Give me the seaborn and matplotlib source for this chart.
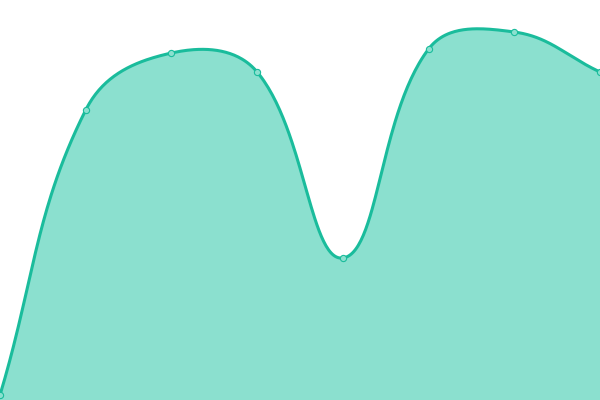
import numpy as np
import pandas as pd
import matplotlib
matplotlib.use("Agg")
import matplotlib.pyplot as plt
import seaborn as sns

categories = [0, 1, 2, 3, 4, 5, 6, 7]
values = [5, 290, 347, 328, 142, 351, 368, 328]

LINE = "#1abc9c"
FILL = "#8be0cf"
XSCALE = 600 / 7  # pixel width per category (for distance-weighted tension)

def spline_curve(x, y, tension=0.4, n=60):
    # distance-weighted bezier spline (tension 0.4), computed in pixel space
    P = np.column_stack([np.asarray(x, float) * XSCALE, np.asarray(y, float)])
    k = len(P)
    cpin, cpout = [], []
    for i in range(k):
        prev = P[max(i - 1, 0)]; cur = P[i]; nxt = P[min(i + 1, k - 1)]
        d01 = np.hypot(*(cur - prev)); d12 = np.hypot(*(nxt - cur))
        s = d01 + d12
        fa = tension * d01 / s if s else 0
        fb = tension * d12 / s if s else 0
        cpin.append(cur - fa * (nxt - prev))
        cpout.append(cur + fb * (nxt - prev))
    xs, ys = [], []
    t = np.linspace(0, 1, n, endpoint=False)[:, None]
    for i in range(k - 1):
        p0, p1, p2, p3 = P[i], cpout[i], cpin[i + 1], P[i + 1]
        b = (1 - t)**3 * p0 + 3 * (1 - t)**2 * t * p1 + 3 * (1 - t) * t**2 * p2 + t**3 * p3
        xs.append(b[:, 0]); ys.append(b[:, 1])
    xs.append([P[-1, 0]]); ys.append([P[-1, 1]])
    return np.concatenate(xs) / XSCALE, np.concatenate(ys)

sx, sy = spline_curve(categories, values)
curve = pd.DataFrame({"x": sx, "y": sy})
pts = pd.DataFrame({"x": categories, "y": values})

fig = plt.figure(figsize=(6, 4), dpi=100)
ax = fig.add_axes([0, 0, 1, 1])
ax.fill_between(sx, sy, 0, color=FILL, linewidth=0, zorder=1)
sns.lineplot(data=curve, x="x", y="y", ax=ax, color=LINE, linewidth=2.2,
             sort=False, estimator=None, zorder=2)
sns.scatterplot(data=pts, x="x", y="y", ax=ax, s=20, color=FILL,
                edgecolor=LINE, linewidth=0.8, zorder=3, clip_on=False)
ax.set_xlim(0, 7)
ax.set_ylim(0, 400)
ax.axis("off")
fig.savefig("out.png", dpi=100)
